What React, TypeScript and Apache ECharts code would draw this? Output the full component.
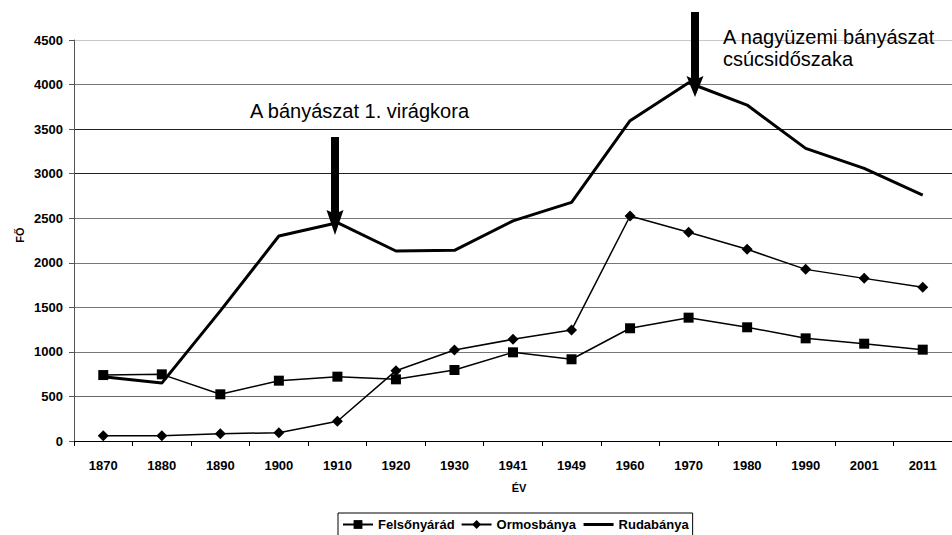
import React, { useEffect, useRef } from 'react';
import * as echarts from 'echarts';

const years = ['1870', '1880', '1890', '1900', '1910', '1920', '1930', '1941', '1949', '1960', '1970', '1980', '1990', '2001', '2011'];
const felsonyarad = [740, 748, 524, 677, 722, 692, 797, 995, 917, 1265, 1384, 1276, 1152, 1092, 1025];
const ormosbanya = [60, 60, 82, 93, 221, 789, 1021, 1141, 1245, 2525, 2342, 2151, 1926, 1825, 1725];
const rudabanya = [720, 650, 1460, 2300, 2450, 2132, 2140, 2470, 2678, 3594, 4020, 3770, 3284, 3060, 2760];
const seriesNames = ['Felsőnyárád', 'Ormosbánya', 'Rudabánya'];
const yMin = 0;
const yMax = 4500;
const yStep = 500;
const annotation1 = 'A bányászat 1. virágkora';
const annotation2 = ['A nagyüzemi bányászat', 'csúcsidőszaka'];

const FONT = '"Liberation Sans", Arial, sans-serif';

function arrow(cx: number, top: number, headStart: number, tip: number) {
  const sw = 4;
  const hw = 8.5;
  return {
    type: 'polygon',
    shape: {
      points: [
        [cx - sw, top], [cx + sw, top], [cx + sw, headStart], [cx + hw, headStart - 2],
        [cx, tip], [cx - hw, headStart - 2], [cx - sw, headStart],
      ],
    },
    style: { fill: '#000' },
    z: 100,
  };
}

export default function App() {
  const ref = useRef<HTMLDivElement>(null);
  useEffect(() => {
    if (!ref.current) return;
    const chart = echarts.init(ref.current, null, { renderer: 'svg' });
    chart.setOption({
      animation: false,
      backgroundColor: '#fff',
      textStyle: { fontFamily: FONT },
      grid: { left: 74, top: 40, width: 887, height: 401, containLabel: false },
      legend: {
        left: 338,
        top: 513,
        orient: 'horizontal',
        borderColor: '#000',
        borderWidth: 1,
        borderRadius: 0,
        padding: [5, 4, 6, 4],
        itemGap: 6,
        itemWidth: 30,
        itemHeight: 11,
        backgroundColor: '#fff',
        textStyle: { fontFamily: FONT, fontWeight: 'bold', fontSize: 13, color: '#000' },
        data: [
          { name: seriesNames[0], lineStyle: { width: 2, color: '#000' } },
          { name: seriesNames[1], lineStyle: { width: 2, color: '#000' } },
          {
            name: seriesNames[2],
            itemStyle: { color: 'rgba(0,0,0,0)', borderWidth: 0 },
            lineStyle: { width: 3, color: '#000' },
          },
        ],
      },
      xAxis: {
        type: 'category',
        data: years,
        boundaryGap: true,
        axisLine: { lineStyle: { color: '#000', width: 1 } },
        axisTick: { show: true, length: 5, lineStyle: { color: '#000' } },
        axisLabel: { margin: 18, fontFamily: FONT, fontWeight: 'bold', fontSize: 13, color: '#000' },
        splitLine: { show: false },
      },
      yAxis: {
        type: 'value',
        min: yMin,
        max: yMax,
        interval: yStep,
        axisLine: { show: true, lineStyle: { color: '#555', width: 1 } },
        axisTick: { show: true, length: 5, lineStyle: { color: '#555' } },
        axisLabel: {
          margin: 11,
          fontFamily: FONT,
          fontWeight: 'bold',
          fontSize: 13,
          color: '#000',
          formatter: (v: number) => String(v),
        },
        splitLine: {
          show: true,
          lineStyle: {
            width: 1,
            color: ['#000', '#666', '#777', '#777', '#777', '#777', '#222', '#222', '#777', '#c8c8c8'],
          },
        },
      },
      series: [
        {
          name: seriesNames[0],
          type: 'line',
          data: felsonyarad,
          symbol: 'rect',
          symbolSize: 10,
          lineStyle: { color: '#000', width: 1.5 },
          itemStyle: { color: '#000' },
          z: 3,
        },
        {
          name: seriesNames[1],
          type: 'line',
          data: ormosbanya,
          symbol: 'diamond',
          symbolSize: 11,
          lineStyle: { color: '#000', width: 1.5 },
          itemStyle: { color: '#000' },
          z: 3,
        },
        {
          name: seriesNames[2],
          type: 'line',
          data: rudabanya,
          symbol: 'none',
          lineStyle: { color: '#000', width: 3 },
          itemStyle: { color: '#000' },
          z: 2,
        },
      ],
      graphic: [
        {
          type: 'text',
          x: 20,
          y: 235,
          rotation: Math.PI / 2,
          style: { text: 'FŐ', font: `bold 11px ${FONT}`, fill: '#000', textAlign: 'center', textVerticalAlign: 'middle' },
        },
        {
          type: 'text',
          x: 519,
          y: 488,
          style: { text: 'ÉV', font: `bold 11px ${FONT}`, fill: '#000', textAlign: 'center', textVerticalAlign: 'middle' },
        },
        {
          type: 'text',
          x: 250,
          y: 110.5,
          style: { text: annotation1, font: `20px ${FONT}`, fill: '#000', textAlign: 'left', textVerticalAlign: 'middle' },
          z: 100,
        },
        {
          type: 'text',
          x: 723,
          y: 37,
          style: { text: annotation2[0], font: `20px ${FONT}`, fill: '#000', textAlign: 'left', textVerticalAlign: 'middle' },
          z: 100,
        },
        {
          type: 'text',
          x: 723,
          y: 59,
          style: { text: annotation2[1], font: `20px ${FONT}`, fill: '#000', textAlign: 'left', textVerticalAlign: 'middle' },
          z: 100,
        },
        arrow(335, 137, 212, 235),
        arrow(695, 12, 78, 97),
      ],
    });
    return () => chart.dispose();
  }, []);
  return (
    <div
      ref={ref}
      style={{ position: 'fixed', left: 0, top: 0, width: 952, height: 535 }}
    />
  );
}
